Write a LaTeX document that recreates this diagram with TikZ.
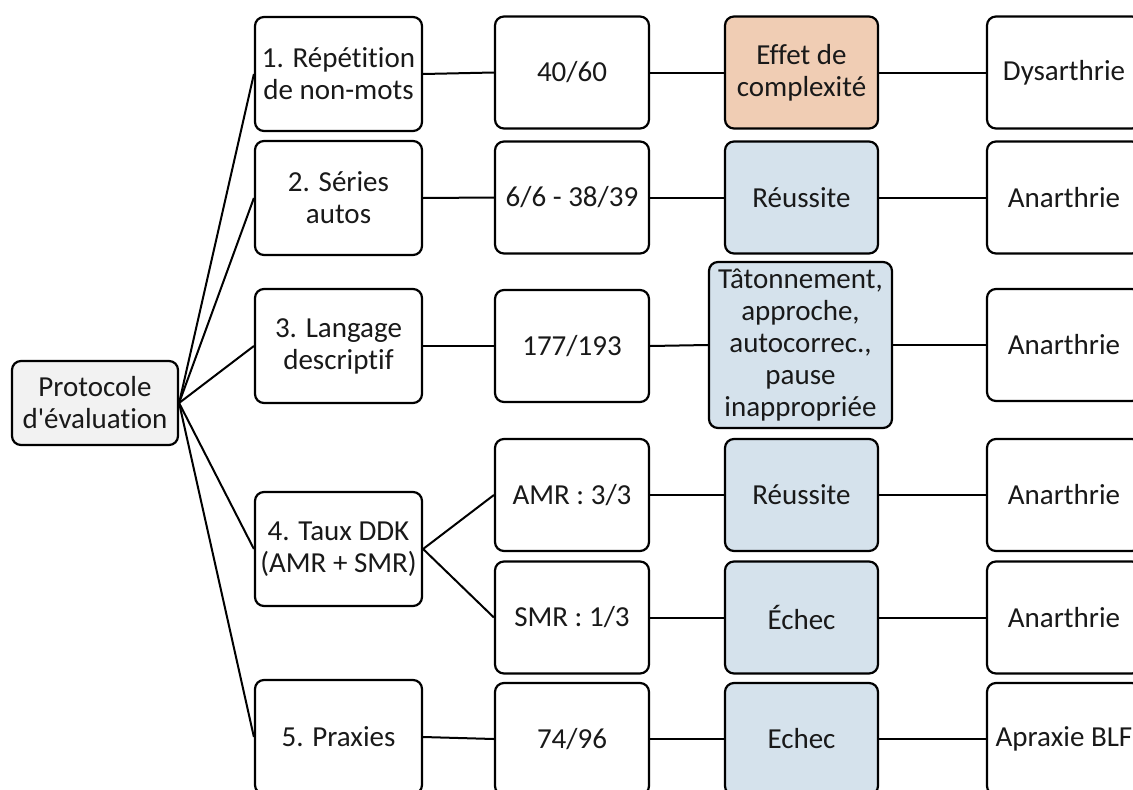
\documentclass[tikz,border=0pt]{standalone}
\usepackage{fontspec}
\setmainfont{Carlito}[Ligatures={TeXOff,NoCommon}]
\definecolor{peach}{HTML}{F0CDB4}
\definecolor{paleblue}{HTML}{D5E2EC}
\definecolor{rootgray}{HTML}{F2F2F2}
\begin{document}
\begin{tikzpicture}[x=1pt,y=-1pt,
  box/.style={draw=black, line width=2.2pt, rounded corners=9pt, fill=white,
    align=center, inner sep=0pt, font=\fontsize{29}{32}\selectfont,
    text=black!90, minimum height=112pt},
  item/.style={box, minimum width=167pt, minimum height=114pt},
  score/.style={box, minimum width=154pt},
  result/.style={box, minimum width=153pt, fill=paleblue},
  diag/.style={box, minimum width=154pt},
  link/.style={draw=black, line width=2pt}
]
\clip (0,0) rectangle (1133,790);

% root
\node[box, fill=rootgray, minimum width=166pt, minimum height=84pt] (root) at (95,403)
  {Protocole\\d'évaluation};

% tests
\node[item] (t1) at (338.5,74)  {1. Répétition\\de non-mots};
\node[item] (t2) at (338.5,198) {2. Séries\\autos};
\node[item] (t3) at (338.5,346) {3. Langage\\descriptif};
\node[item] (t4) at (338.5,549) {4. Taux DDK\\(AMR + SMR)};
\node[item] (t5) at (338.5,737) {5. Praxies};

% scores
\node[score] (s1) at (572,72.5)  {40/60};
\node[score] (s2) at (572,197.5) {6/6 - 38/39};
\node[score] (s3) at (572,346)   {177/193};
\node[score] (s4a) at (572,495)  {AMR : 3/3};
\node[score] (s4b) at (572,617.5) {SMR : 1/3};
\node[score] (s5) at (572,739)   {74/96};

% observations
\node[result, fill=peach] (r1) at (801.5,72.5) {Effet de\\complexité};
\node[result] (r2) at (801.5,197.5) {Réussite};
\node[result, minimum width=183pt, minimum height=166pt] (r3) at (800.5,345)
  {Tâtonnement,\\approche,\\autocorrec.,\\pause\\inappropriée};
\node[result] (r4a) at (801.5,495) {Réussite};
\node[result] (r4b) at (801.5,617.5) {Échec};
\node[result] (r5) at (801.5,739) {Echec};

% conclusions
\node[diag] (d1) at (1064,72.5)  {Dysarthrie};
\node[diag] (d2) at (1064,197.5) {Anarthrie};
\node[diag] (d3) at (1064,345)   {Anarthrie};
\node[diag] (d4a) at (1064,495)  {Anarthrie};
\node[diag] (d4b) at (1064,617.5) {Anarthrie};
\node[diag] (d5) at (1064,739)   {Apraxie BLF};

% connectors
\foreach \t in {t1,t2,t3,t4,t5}
  \draw[link] (root.east) -- (\t.west);
\draw[link] (t1.east) -- (s1.west);
\draw[link] (t2.east) -- (s2.west);
\draw[link] (t3.east) -- (s3.west);
\draw[link] (t4.east) -- (s4a.west);
\draw[link] (t4.east) -- (s4b.west);
\draw[link] (t5.east) -- (s5.west);
\foreach \a/\b in {s1/r1,s2/r2,s3/r3,s4a/r4a,s4b/r4b,s5/r5,
                   r1/d1,r2/d2,r3/d3,r4a/d4a,r4b/d4b,r5/d5}
  \draw[link] (\a.east) -- (\b.west);
\end{tikzpicture}
\end{document}
